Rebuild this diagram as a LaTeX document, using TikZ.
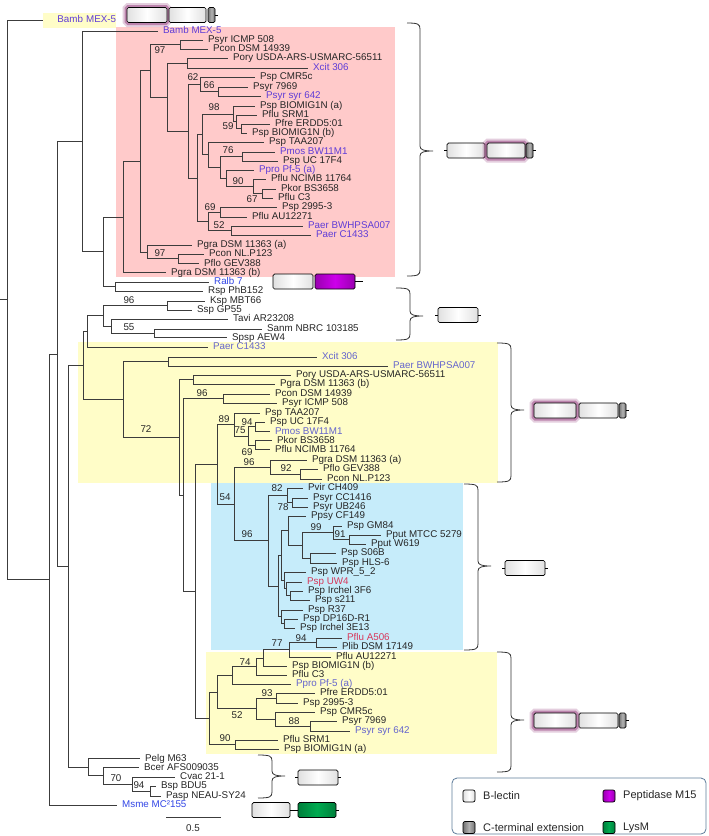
\documentclass[tikz,border=0pt]{standalone}
\usepackage{fontspec}
\setmainfont{Liberation Sans}
\usetikzlibrary{positioning}

\definecolor{pinkbg}{RGB}{255,202,202}
\definecolor{yelbg}{RGB}{255,253,200}
\definecolor{bluebg}{RGB}{198,236,250}
\definecolor{tipv}{RGB}{95,60,215}
\definecolor{tipl}{RGB}{100,100,205}
\definecolor{tipr}{RGB}{215,55,90}
\definecolor{tipb}{RGB}{50,70,230}
\definecolor{brline}{RGB}{60,60,60}
\definecolor{glowc}{RGB}{150,60,125}
\definecolor{peptc}{RGB}{205,0,235}
\definecolor{lysmc}{RGB}{0,170,80}
\definecolor{legline}{RGB}{95,125,155}

\tikzset{
  br/.style={draw=brline, line width=0.6pt},
  leaf/.style={anchor=west, inner xsep=5pt, inner ysep=0pt, xshift=-5pt,
    text height=7pt, text depth=1.5pt, font=\fontsize{9.8}{11}\selectfont, text=black!85},
  boot/.style={inner sep=0pt, font=\fontsize{9.8}{11}\selectfont, text=black!85},
  dom/.style={draw=black, line width=0.7pt, rounded corners=1.5pt, minimum height=15pt,
    inner sep=0pt, shade, left color=black!12, right color=black!12, middle color=white},
  lectin/.style={dom, minimum width=39pt},
  cterm/.style={dom, minimum width=7pt, left color=black!55, right color=black!55, middle color=black!30},
  pept/.style={dom, minimum width=40pt, left color=peptc!75!black, right color=peptc!75!black, middle color=peptc},
  lysm/.style={dom, minimum width=38pt, left color=lysmc!75!black, right color=lysmc!75!black, middle color=lysmc},
  glow/.style={preaction={draw=glowc, line width=9pt, opacity=0.25},
    preaction={draw=glowc, line width=5pt, opacity=0.5}},
  tick/.style={draw=black, line width=1pt},
  brace/.style={draw=black!80, line width=0.8pt},
  legsq/.style={dom, minimum width=12pt, minimum height=12pt, rounded corners=2pt},
  legtxt/.style={anchor=west, inner sep=0pt, font=\fontsize{11}{13}\selectfont, text=black!85}
}

% clade bracket: x end, x vertical, top, bottom, tip
\newcommand\clbrace[5]{%
  \draw[brace] (#1,#3) .. controls (#2-2,#3) and (#2,#3+1) .. (#2,#3+6) -- (#2,#5-5)
    .. controls (#2,#5-1) and (#2+4,#5) .. (#2+13,#5)
    .. controls (#2+4,#5) and (#2,#5+1) .. (#2,#5+5) -- (#2,#4-6)
    .. controls (#2,#4-1) and (#2-2,#4) .. (#1,#4);}

\begin{document}
\begin{tikzpicture}[x=1pt, y=-1pt]
\useasboundingbox (0,0) rectangle (709,836);
\fill[white] (0,0) rectangle (709,836);

% highlighted clades
\fill[pinkbg] (116,27) rectangle (395,277);
\fill[yelbg] (78,342) rectangle (498,483);
\fill[bluebg] (211,483) rectangle (463,650);
\fill[yelbg] (206,652) rectangle (497,754);

% leaves
\node[anchor=west, fill=yelbg, inner xsep=0pt, inner ysep=3pt, text width=73pt, align=right,
  text height=7pt, text depth=2pt, font=\fontsize{9.8}{11}\selectfont, text=tipv] (t0) at (43,20) {Bamb MEX-5};
\node[leaf, text=tipv] (p1) at (163,31) {Bamb MEX-5};
\node[leaf] (p2) at (208,40) {Psyr ICMP 508};
\node[leaf] (p3) at (213,49) {Pcon DSM 14939};
\node[leaf] (p4) at (233,58) {Pory USDA-ARS-USMARC-56511};
\node[leaf, text=tipv] (p5) at (313,68) {Xcit 306};
\node[leaf] (p6) at (260,77) {Psp CMR5c};
\node[leaf] (p7) at (253,87) {Psyr 7969};
\node[leaf, text=tipv] (p8) at (266,96) {Psyr syr 642};
\node[leaf] (p9) at (260,106) {Psp BIOMIG1N (a)};
\node[leaf] (p10) at (262,115) {Pflu SRM1};
\node[leaf] (p11) at (275,124) {Pfre ERDD5:01};
\node[leaf] (p12) at (252,133) {Psp BIOMIG1N (b)};
\node[leaf] (p13) at (269,142) {Psp TAA207};
\node[leaf, text=tipv] (p14) at (280,152) {Pmos BW11M1};
\node[leaf] (p15) at (283,161) {Psp UC 17F4};
\node[leaf, text=tipv] (p16) at (259,170) {Ppro Pf-5 (a)};
\node[leaf] (p17) at (271,179) {Pflu NCIMB 11764};
\node[leaf] (p18) at (281,189) {Pkor BS3658};
\node[leaf] (p19) at (278,198) {Pflu C3};
\node[leaf] (p20) at (282,207) {Psp 2995-3};
\node[leaf] (p21) at (252,217) {Pflu AU12271};
\node[leaf, text=tipv] (p22) at (308,226) {Paer BWHPSA007};
\node[leaf, text=tipv] (p23) at (316,235) {Paer C1433};
\node[leaf] (p24) at (197,245) {Pgra DSM 11363 (a)};
\node[leaf] (p25) at (209,254) {Pcon NL.P123};
\node[leaf] (p26) at (204,263.5) {Pflo GEV388};
\node[leaf] (p27) at (171,272.5) {Pgra DSM 11363 (b)};
\node[leaf, text=tipb] (r1) at (214,282) {Ralb 7};
\node[leaf] (r2) at (208,291) {Rsp PhB152};
\node[leaf] (k1) at (210,301) {Ksp MBT66};
\node[leaf] (k2) at (197,310) {Ssp GP55};
\node[leaf] (k3) at (233,319) {Tavi AR23208};
\node[leaf] (k4) at (267,329) {Sanm NBRC 103185};
\node[leaf] (k5) at (232,337.5) {Spsp AEW4};
\node[leaf, text=tipl] (y1) at (213,347) {Paer C1433};
\node[leaf, text=tipl] (y2) at (322,357) {Xcit 306};
\node[leaf, text=tipl] (y3) at (393,366) {Paer BWHPSA007};
\node[leaf] (y4) at (296,375) {Pory USDA-ARS-USMARC-56511};
\node[leaf] (y5) at (280,384) {Pgra DSM 11363 (b)};
\node[leaf] (y6) at (275,394) {Pcon DSM 14939};
\node[leaf] (y7) at (282,403) {Psyr ICMP 508};
\node[leaf] (y8) at (265,413) {Psp TAA207};
\node[leaf] (y9) at (270,422) {Psp UC 17F4};
\node[leaf, text=tipl] (y10) at (275,431.5) {Pmos BW11M1};
\node[leaf] (y11) at (277,440.5) {Pkor BS3658};
\node[leaf] (y12) at (275,449.5) {Pflu NCIMB 11764};
\node[leaf] (y13) at (312,460) {Pgra DSM 11363 (a)};
\node[leaf] (y14) at (323,469) {Pflo GEV388};
\node[leaf] (y15) at (327,479) {Pcon NL.P123};
\node[leaf] (b1) at (308,488) {Pvir CH409};
\node[leaf] (b2) at (313,498) {Psyr CC1416};
\node[leaf] (b3) at (313,507) {Psyr UB246};
\node[leaf] (b4) at (311,516) {Ppsy CF149};
\node[leaf] (b5) at (347,526) {Psp GM84};
\node[leaf] (b6) at (386,535) {Pput MTCC 5279};
\node[leaf] (b7) at (371,544) {Pput W619};
\node[leaf] (b8) at (341,553) {Psp S06B};
\node[leaf] (b9) at (342,563) {Psp HLS-6};
\node[leaf] (b10) at (311,572) {Psp WPR\_5\_2};
\node[leaf, text=tipr] (b11) at (307,582) {Psp UW4};
\node[leaf] (b12) at (308,591) {Psp Irchel 3F6};
\node[leaf] (b13) at (315,600) {Psp s211};
\node[leaf] (b14) at (308,610) {Psp R37};
\node[leaf] (b15) at (303,619) {Psp DP16D-R1};
\node[leaf] (b16) at (300,628) {Psp Irchel 3E13};
\node[leaf, text=tipr] (b17) at (347,638) {Pflu A506};
\node[leaf] (b18) at (342,647) {Plib DSM 17149};
\node[leaf] (w1) at (336,657) {Pflu AU12271};
\node[leaf] (w2) at (292,666) {Psp BIOMIG1N (b)};
\node[leaf] (w3) at (292,675) {Pflu C3};
\node[leaf, text=tipl] (w4) at (296,684) {Ppro Pf-5 (a)};
\node[leaf] (w5) at (320,693) {Pfre ERDD5:01};
\node[leaf] (w6) at (303,703) {Psp 2995-3};
\node[leaf] (w7) at (320,712) {Psp CMR5c};
\node[leaf] (w8) at (342,721) {Psyr 7969};
\node[leaf, text=tipl] (w9) at (355,731) {Psyr syr 642};
\node[leaf] (w10) at (283,740) {Pflu SRM1};
\node[leaf] (w11) at (284,749) {Psp BIOMIG1N (a)};
\node[leaf] (g1) at (145,758.5) {Pelg M63};
\node[leaf] (g2) at (144,767.5) {Bcer AFS009035};
\node[leaf] (g3) at (180,777) {Cvac 21-1};
\node[leaf] (g4) at (161,786) {Bsp BDU5};
\node[leaf] (g5) at (166,796) {Pasp NEAU-SY24};
\node[leaf, text=tipb] (m1) at (122,805) {Msme MC²155};

% inner nodes
\coordinate (nF) at (180,44.5);   \coordinate (nPX) at (187,63);
\coordinate (n66) at (218,91.5);  \coordinate (n62) at (200,84.25);
\coordinate (n59) at (241,128.5); \coordinate (nSR) at (236,121.75);
\coordinate (n98) at (233,113.9); \coordinate (n76) at (242,156.5);
\coordinate (n67) at (262,193.5); \coordinate (n90) at (253,186.25);
\coordinate (nPP) at (226,178.1); \coordinate (n220) at (220,167.3);
\coordinate (nTA) at (208,154.7); \coordinate (n202) at (202,134.3);
\coordinate (n69) at (220,212);   \coordinate (n52) at (231,230.5);
\coordinate (n208) at (208,221.25); \coordinate (n197) at (197,177.8);
\coordinate (n188) at (188,131);  \coordinate (n167) at (167,97);
\coordinate (n150) at (150,70.75); \coordinate (n97b) at (178,258.75);
\coordinate (nE) at (147,252);    \coordinate (n140) at (140,161.4);
\coordinate (nD) at (123,216.9);  \coordinate (nR) at (115,286.5);
\coordinate (nC) at (103,251.7);  \coordinate (nB) at (82,141.3);
\coordinate (nKS) at (167,305.5); \coordinate (nSS) at (154,333.25);
\coordinate (nT) at (111,326);    \coordinate (nK) at (103,315.75);
\coordinate (nJ) at (87,331.4);   \coordinate (nXP) at (168,361.5);
\coordinate (nPG) at (193,379.5); \coordinate (n96a) at (223,398.5);
\coordinate (n94b) at (255,426.75); \coordinate (n69b) at (255,445);
\coordinate (n75) at (248,435.9); \coordinate (n89) at (234,424.5);
\coordinate (n92) at (300,474);   \coordinate (n96b) at (270,467);
\coordinate (n78) at (292,502.5); \coordinate (n82) at (287,495.25);
\coordinate (n91) at (349,539.5); \coordinate (n99) at (333,532.75);
\coordinate (nS6) at (310,558);   \coordinate (n302) at (302,545.4);
\coordinate (n288) at (288,530.7); \coordinate (n3F) at (290,595.5);
\coordinate (nW2) at (286,588.75); \coordinate (nW1) at (284,580.4);
\coordinate (nX1) at (281,555.5); \coordinate (nDP) at (284,623.5);
\coordinate (nR1) at (281,616.75); \coordinate (nX2) at (278,586.1);
\coordinate (n268) at (268,540.7); \coordinate (n234) at (234,503.8);
\coordinate (n217) at (217,464.2); \coordinate (n94c) at (316,642.5);
\coordinate (n77) at (289,649.75); \coordinate (n263) at (263,657.9);
\coordinate (n74) at (256,666.4); \coordinate (n232) at (232,675.2);
\coordinate (n93) at (276,698);   \coordinate (n88) at (310,726);
\coordinate (nCM) at (275,719);   \coordinate (n52b) at (256,708.5);
\coordinate (n217b) at (217,691.9); \coordinate (n90b) at (235,744.5);
\coordinate (n209) at (209,718.2); \coordinate (n195) at (195,591.2);
\coordinate (n183) at (183,494.9); \coordinate (n179) at (179,437.2);
\coordinate (nY0) at (123,399.4); \coordinate (nI) at (83,365.4);
\coordinate (nBP) at (150,791);   \coordinate (n132) at (132,784);
\coordinate (n103) at (103,775.75); \coordinate (n88b) at (88,767.1);
\coordinate (nH) at (68,566.3);   \coordinate (nA) at (57,353.8);
\coordinate (nG) at (49,579.4);   \coordinate (root) at (7,299.7);
\coordinate (stub) at (0,299.7);

% branches
\draw[br] (stub) -- (root);
\foreach \p/\c in {root/t0, root/nG, nG/nA, nG/m1, nA/nB, nA/nH,
  nB/p1, nB/nC, nC/nD, nC/nR, nR/r1, nR/r2, nD/n140, nD/p27,
  n140/n150, n140/nE, nE/p24, nE/n97b, n97b/p25, n97b/p26,
  n150/nF, n150/n167, nF/p2, nF/p3, n167/nPX, n167/n188, nPX/p4, nPX/p5,
  n188/n62, n188/n197, n62/p6, n62/n66, n66/p7, n66/p8,
  n197/n202, n197/n208, n202/n98, n202/nTA, n98/p9, n98/nSR, nSR/p10, nSR/n59,
  n59/p11, n59/p12, nTA/p13, nTA/n220, n220/n76, n220/nPP, n76/p14, n76/p15,
  nPP/p16, nPP/n90, n90/p17, n90/n67, n67/p18, n67/p19,
  n208/n69, n208/n52, n69/p20, n69/p21, n52/p22, n52/p23,
  nH/nI, nH/n88b, nI/nJ, nI/nY0, nJ/nK, nJ/y1, nK/nKS, nK/nT,
  nKS/k1, nKS/k2, nT/k3, nT/nSS, nSS/k4, nSS/k5,
  nY0/nXP, nY0/n179, nXP/y2, nXP/y3, n179/nPG, n179/n183, nPG/y4, nPG/y5,
  n183/n96a, n183/n195, n96a/y6, n96a/y7, n195/n217, n195/n209,
  n217/n89, n217/n234, n89/y8, n89/n75, n75/n94b, n75/n69b,
  n94b/y9, n94b/y10, n69b/y11, n69b/y12,
  n234/n96b, n234/n268, n96b/y13, n96b/n92, n92/y14, n92/y15,
  n268/n82, n268/nX2, n82/b1, n82/n78, n78/b2, n78/b3,
  nX2/nX1, nX2/nR1, nX1/n288, nX1/nW1, n288/b4, n288/n302,
  n302/n99, n302/nS6, n99/b5, n99/n91, n91/b6, n91/b7, nS6/b8, nS6/b9,
  nW1/b10, nW1/nW2, nW2/b11, nW2/n3F, n3F/b12, n3F/b13,
  nR1/b14, nR1/nDP, nDP/b15, nDP/b16,
  n209/n217b, n209/n90b, n217b/n232, n217b/n52b, n232/n74, n232/w4,
  n74/n263, n74/w3, n263/n77, n263/w2, n77/n94c, n77/w1, n94c/b17, n94c/b18,
  n52b/n93, n52b/nCM, n93/w5, n93/w6, nCM/w7, nCM/n88, n88/w8, n88/w9,
  n90b/w10, n90b/w11,
  n88b/g1, n88b/n103, n103/g2, n103/n132, n132/g3, n132/nBP, nBP/g4, nBP/g5}
  \draw[br] (\p) |- (\c);

% bootstrap values
\foreach \v/\x/\y [count=\i] in {97/160/50, 62/193/77, 66/209/85, 98/214/107,
  59/228/126, 76/228/150, 90/238/181, 67/252/199, 69/210/207, 52/219/225,
  97/160/253, 96/129/300, 55/129/327, 72/146/429, 96/202/393, 89/224/419,
  94/247/422, 75/240/430, 69/247/452, 96/249/462, 92/286/468, 54/225/497,
  96/247/534, 82/277/488, 78/283/507, 99/316/527, 91/340/534, 94/301/638,
  77/277/643, 74/245/662, 93/267/693, 88/294/721, 52/237/715, 90/225/738,
  70/116/778, 94/139/785}
  \node[boot] (bs\i) at (\x,\y) {\v};

% scale bar
\coordinate (sbl) at (166,817);
\coordinate (sbr) at (221,817);
\draw[br] (sbl) -- (sbr);
\node[boot] (sbt) at (193,828) {0.5};

% clade brackets
\clbrace{407}{420}{23}{276}{151}
\clbrace{396}{410}{288}{340}{316}
\clbrace{497}{511}{343}{482}{410}
\clbrace{464}{478}{484}{650}{566}
\clbrace{497}{511}{652}{772}{720}
\clbrace{258}{272}{755}{798}{776}

% domain architectures
\node[lectin, glow, minimum width=40pt] (a1) at (147,15) {};
\node[lectin, minimum width=37pt] (a2) at (187.5,15) {};
\node[cterm] (a3) at (211.5,15) {};
\draw[tick] (a3.east) -- ++(3,0);

\node[lectin, minimum width=38pt] (c1) at (466,150.5) {};
\node[lectin, glow, minimum width=38pt] (c2) at (506,150.5) {};
\node[cterm] (c3) at (529.5,150.5) {};
\draw[tick] (c1.west) -- ++(-3,0);
\draw[tick] (c3.east) -- ++(3,0);

\node[lectin, minimum width=40pt] (r1d) at (293,281.5) {};
\node[pept] (r2d) at (335,281.5) {};
\draw[tick] (r2d.east) -- ++(8,0);

\node[lectin, minimum width=40pt] (k1d) at (458,315) {};
\draw[tick] (k1d.west) -- ++(-3,0);
\draw[tick] (k1d.east) -- ++(3,0);

\node[lectin, glow, minimum width=42pt] (y1d) at (555,410.5) {};
\node[lectin, minimum width=39pt] (y2d) at (598.5,410.5) {};
\node[cterm] (y3d) at (622.5,410.5) {};
\draw[tick] (y3d.east) -- ++(3,0);

\node[lectin, minimum width=40pt] (b1d) at (525,568) {};
\draw[tick] (b1d.west) -- ++(-3,0);
\draw[tick] (b1d.east) -- ++(3,0);

\node[lectin, glow, minimum width=42pt] (w1d) at (555,720.5) {};
\node[lectin, minimum width=39pt] (w2d) at (598.5,720.5) {};
\node[cterm] (w3d) at (622.5,720.5) {};
\draw[tick] (w3d.east) -- ++(3,0);

\node[lectin, minimum width=40pt] (g1d) at (318,777.5) {};
\draw[tick] (g1d.west) -- ++(-3,0);
\draw[tick] (g1d.east) -- ++(3,0);

\node[lectin, minimum width=38pt] (m1d) at (271,810) {};
\node[lysm] (m2d) at (317,810) {};
\draw[tick] (m1d) -- (m2d);
\draw[tick] (m2d.east) -- ++(3,0);

% legend
\node[draw=legline, line width=0.8pt, rounded corners=5pt, minimum width=254pt,
  minimum height=56pt, inner sep=0pt] (legend) at (579,806) {};
\node[legsq] (lg1) at (469,796) {};
\node[legtxt] (lt1) at (483,796) {B-lectin};
\node[legsq, left color=black!55, right color=black!55, middle color=black!30] (lg2) at (469,827.5) {};
\node[legtxt] (lt2) at (483,827.5) {C-terminal extension};
\node[legsq, left color=peptc!75!black, right color=peptc!75!black, middle color=peptc] (lg3) at (609,796) {};
\node[legtxt] (lt3) at (623,796) {Peptidase M15};
\node[legsq, left color=lysmc!75!black, right color=lysmc!75!black, middle color=lysmc] (lg4) at (609,827.5) {};
\node[legtxt] (lt4) at (623,827.5) {LysM};
\end{tikzpicture}
\end{document}
